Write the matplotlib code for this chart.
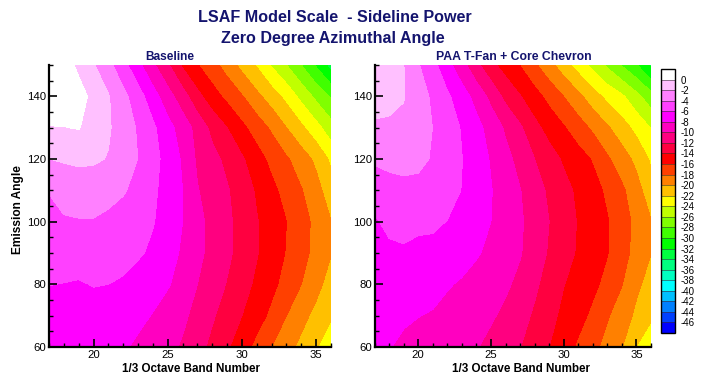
import numpy as np
import matplotlib
matplotlib.use('Agg')
import matplotlib.pyplot as plt
from matplotlib.colors import ListedColormap, BoundaryNorm
from matplotlib.ticker import MultipleLocator

plt.rcParams['font.family'] = ['Liberation Sans', 'DejaVu Sans']
plt.rcParams['axes.unicode_minus'] = False

# 1/3 octave bands (x) and emission angles (y)
bands = [17, 18, 19, 20, 21, 22, 23, 24, 25, 26, 27, 28, 29, 30, 31, 32, 33, 34, 35, 36]
angles = [60, 70, 80, 90, 100, 110, 120, 130, 140, 150]

# relative SPL (dB), one row per angle, from 60 up to 150 deg
baseline = [
    [-7.2, -7.3, -7.3, -7.4, -7.6, -7.8, -8.3, -8.91, -9.52, -10.22, -11.33, -12.5, -13.75, -15.14, -16.57, -18.0, -19.25, -20.53, -21.87, -23.0],
    [-7.0, -7.0, -7.1, -7.0, -7.1, -7.3, -7.6, -8.08, -8.85, -9.62, -10.59, -11.76, -12.89, -14.0, -15.18, -16.46, -18.0, -19.33, -20.6, -21.8],
    [-5.95, -6.05, -6.2, -5.9, -6.0, -6.3, -7.0, -7.42, -7.83, -8.75, -10.0, -11.05, -12.11, -13.25, -14.38, -15.5, -16.71, -18.0, -19.33, -20.9],
    [-5.2, -5.0, -4.9, -4.8, -4.9, -5.2, -5.7, -6.4, -7.29, -8.25, -9.5, -10.6, -11.6, -12.71, -13.88, -15.0, -16.12, -17.29, -18.62, -19.9],
    [-4.7, -4.2, -4.1, -4.1, -4.4, -4.9, -5.4, -5.87, -6.92, -8.0, -9.43, -10.6, -11.6, -12.71, -13.88, -14.95, -16.0, -17.18, -18.55, -19.95],
    [-3.9, -3.3, -3.2, -3.2, -3.4, -3.8, -4.64, -5.63, -6.77, -8.0, -9.89, -10.88, -11.81, -13.0, -14.25, -15.5, -16.71, -17.88, -19.29, -21.1],
    [-2.02, -1.8, -1.6, -1.7, -2.1, -3.06, -4.02, -5.34, -6.71, -8.25, -10.32, -11.37, -12.5, -13.75, -15.19, -16.55, -17.76, -19.0, -20.44, -22.4],
    [-0.1, -0.05, 0.1, -0.79, -1.78, -2.96, -4.21, -5.63, -7.3, -8.92, -10.67, -12.57, -14.0, -15.54, -16.93, -18.33, -20.0, -21.6, -23.3, -25.2],
    [1.5, 1.3, 0.7, -0.48, -1.86, -3.44, -5.16, -7.14, -9.2, -11.09, -13.43, -15.14, -16.53, -17.87, -19.5, -21.0, -22.6, -24.6, -26.5, -28.2],
    [1.2, 0.9, -0.4, -1.85, -3.45, -5.3, -7.45, -9.65, -11.7, -14.3, -15.9, -17.3, -18.85, -20.6, -22.2, -24.2, -26.0, -28.0, -30.25, -32.8],
]

paa_chevron = [
    [-7.75, -7.95, -8.2, -8.46, -8.82, -9.18, -9.54, -9.89, -10.51, -11.23, -11.95, -12.96, -14.0, -15.16, -16.31, -17.48, -18.69, -19.94, -22.05, -22.8],
    [-7.5, -7.6, -7.85, -7.97, -8.1, -8.52, -8.94, -9.35, -9.77, -10.4, -11.31, -12.28, -13.43, -14.45, -15.36, -16.42, -17.81, -19.08, -20.37, -21.8],
    [-7.2, -7.2, -7.3, -7.4, -7.6, -7.85, -8.2, -8.7, -9.2, -9.7, -10.47, -11.65, -12.8, -13.94, -14.76, -15.55, -16.59, -17.93, -19.65, -20.7],
    [-6.8, -6.34, -6.21, -6.5, -6.57, -6.9, -7.3, -7.8, -8.43, -9.14, -9.86, -11.0, -12.21, -13.24, -14.23, -15.08, -15.92, -17.29, -18.65, -19.95],
    [-6.2, -5.6, -5.5, -5.6, -5.65, -6.05, -6.7, -7.36, -8.0, -8.87, -9.74, -10.82, -12.0, -13.08, -14.13, -15.0, -15.88, -17.16, -18.52, -19.9],
    [-5.2, -4.7, -4.6, -4.6, -4.7, -5.2, -6.06, -6.98, -7.91, -8.91, -9.93, -11.16, -12.34, -13.38, -14.38, -15.32, -16.36, -17.64, -19.21, -21.2],
    [-3.7, -3.5, -3.3, -3.5, -4.18, -5.07, -5.96, -7.05, -8.16, -9.39, -10.67, -12.0, -13.18, -14.27, -15.18, -16.16, -17.72, -19.05, -20.54, -22.3],
    [-2.3, -2.3, -2.4, -3.2, -4.02, -5.07, -6.15, -7.38, -8.77, -10.29, -11.71, -13.42, -14.73, -15.83, -17.08, -18.38, -19.75, -21.15, -22.6, -24.1],
    [-1.2, -1.5, -1.9, -3.06, -4.34, -5.68, -7.12, -8.69, -10.57, -12.54, -13.9, -15.25, -16.62, -18.03, -19.49, -21.13, -22.56, -23.67, -25.4, -27.2],
    [-0.8, -1.4, -1.97, -3.86, -5.4, -7.33, -9.27, -11.5, -13.45, -14.84, -16.06, -17.68, -19.33, -21.09, -22.87, -24.61, -26.36, -28.17, -29.83, -32.5],
]

levels = list(range(-46, 1, 2))
level_colors = ['#0040ff', '#0080ff', '#00c0ff', '#00ffff', '#00ffc0', '#00ff80',
                '#00ff40', '#00ff00', '#40ff00', '#80ff00', '#c0ff00', '#ffff00',
                '#ffc000', '#ff8000', '#ff4000', '#ff0000', '#ff0040', '#ff0080',
                '#ff00c0', '#ff00ff', '#ff40ff', '#ff80ff', '#ffc0ff']
cmap = ListedColormap(level_colors)
cmap.set_over('#ffffff')
cmap.set_under('#0000ff')
norm = BoundaryNorm(levels, cmap.N)

navy = '#14146e'
W, H = 704, 375
fig = plt.figure(figsize=(W / 100, H / 100), dpi=100)

X, Y = np.meshgrid(bands, angles)
panels = [(baseline, 49, 331), (paa_chevron, 374.6, 651)]
for data, x0, x1 in panels:
    ax = fig.add_axes([x0 / W, 28 / H, (x1 - x0) / W, 282 / H])
    cs = ax.contourf(X, Y, np.array(data), levels=levels, cmap=cmap, norm=norm,
                     extend='both', antialiased=False)
    ax.set_xlim(17, 36)
    ax.set_ylim(60, 150)
    ax.set_xticks([20, 25, 30, 35])
    ax.set_yticks([60, 80, 100, 120, 140])
    ax.xaxis.set_minor_locator(MultipleLocator(1))
    ax.yaxis.set_minor_locator(MultipleLocator(5))
    ax.tick_params(which='major', direction='in', length=6, width=1.2, labelsize=8.2, pad=2)
    ax.tick_params(which='minor', direction='in', length=3, width=1.0)
    for s in ['top', 'right']:
        ax.spines[s].set_visible(False)
    for s in ['left', 'bottom']:
        ax.spines[s].set_linewidth(1.6)
    ax.set_axisbelow(False)

fig.text(335 / W, 1 - 17 / H, 'LSAF Model Scale  - Sideline Power', ha='center', va='center',
         fontsize=11.6, fontweight='bold', color=navy)
fig.text(333 / W, 1 - 38 / H, 'Zero Degree Azimuthal Angle', ha='center', va='center',
         fontsize=11.6, fontweight='bold', color=navy)
fig.text(170 / W, 1 - 57 / H, 'Baseline', ha='center', va='center',
         fontsize=8.6, fontweight='bold', color=navy)
fig.text(514 / W, 1 - 57 / H, 'PAA T-Fan + Core Chevron', ha='center', va='center',
         fontsize=8.8, fontweight='bold', color=navy)
fig.text(18 / W, 1 - 210 / H, 'Emission Angle', ha='center', va='center', rotation=90,
         fontsize=8.6, fontweight='bold')
fig.text(191 / W, 1 - 368.5 / H, '1/3 Octave Band Number', ha='center', va='center',
         fontsize=8.4, fontweight='bold')
fig.text(521 / W, 1 - 368.5 / H, '1/3 Octave Band Number', ha='center', va='center',
         fontsize=8.4, fontweight='bold')

cax = fig.add_axes([661 / W, 42 / H, 14 / W, 264 / H])
cb = fig.colorbar(cs, cax=cax, extendrect=True, extendfrac='auto', drawedges=True)
cb.set_ticks(levels)
cb.set_ticklabels([str(v) for v in levels])
cb.ax.tick_params(length=0, labelsize=7, pad=4)
cb.outline.set_linewidth(1.0)
cb.dividers.set_linewidth(0.4)
cb.dividers.set_color('#333333')

fig.savefig('out.png', dpi=100)
